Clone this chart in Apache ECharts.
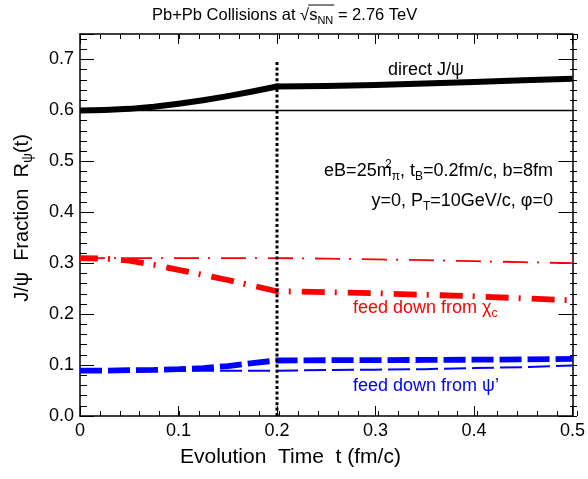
<!DOCTYPE html>
<html><head><meta charset="utf-8">
<script src="https://cdn.jsdelivr.net/npm/echarts@6/dist/echarts.min.js"></script>
<style>html,body{margin:0;padding:0;background:#fff}#c{width:588px;height:479px}</style>
</head><body><div id="c"></div>
<script>
// ---- data ----
const times      = [0, 0.025, 0.05, 0.075, 0.1, 0.125, 0.15, 0.175, 0.2, 0.25, 0.3, 0.35, 0.4, 0.45, 0.5];
const directB    = [0.600, 0.601, 0.603, 0.607, 0.613, 0.620, 0.628, 0.637, 0.647, 0.648, 0.650, 0.653, 0.656, 0.659, 0.662];
const directNoB  = [0.600, 0.600, 0.600, 0.600, 0.600, 0.600, 0.600, 0.600, 0.600, 0.600, 0.600, 0.600, 0.600, 0.600, 0.600];
const chiB       = [0.310, 0.309, 0.305, 0.297, 0.287, 0.277, 0.267, 0.256, 0.245, 0.243, 0.241, 0.238, 0.235, 0.231, 0.227];
const chiNoB     = [0.310, 0.310, 0.310, 0.310, 0.310, 0.310, 0.310, 0.310, 0.310, 0.309, 0.3075, 0.306, 0.304, 0.302, 0.300];
const psiB       = [0.089, 0.089, 0.090, 0.0905, 0.092, 0.094, 0.098, 0.104, 0.109, 0.1095, 0.1098, 0.110, 0.1105, 0.111, 0.112];
const psiNoB     = [0.089, 0.089, 0.089, 0.089, 0.089, 0.089, 0.089, 0.089, 0.089, 0.0902, 0.091, 0.092, 0.094, 0.096, 0.099];
const tB         = 0.2;          // magnetic field lifetime (dotted marker)
const markerTop  = 0.695;
const xTicks     = [0, 0.1, 0.2, 0.3, 0.4, 0.5];
const yTickLabels= ['0.0','0.1','0.2','0.3','0.4','0.5','0.6','0.7'];

const FONT = '"Liberation Sans", Arial, Helvetica, sans-serif';
const chart = echarts.init(document.getElementById('c'), null, {renderer:'canvas'});
const pairs = vals => times.map((t, i) => [t, vals[i]]);
const G = {left:80, right:11, top:34, bottom:63};

function xAx(grid, pos, interval, len, labels) {
  return {gridIndex:grid, type:'value', min:0, max:0.5, interval:interval, position:pos,
    axisLine:{show:grid===0, onZero:false, lineStyle:{color:'#000', width:1.5}},
    axisTick:{show:true, inside:true, length:len, lineStyle:{color:'#000', width:1}},
    axisLabel:{show:labels, fontSize:18, color:'#000', fontFamily:FONT, margin:6,
      formatter: v => { const i = xTicks.findIndex(t => Math.abs(t - v) < 1e-6); return i < 0 ? '' : (v === 0 ? '0' : v.toFixed(1)); }},
    splitLine:{show:false}};
}
function yAx(grid, pos, interval, len, labels) {
  return {gridIndex:grid, type:'value', min:0, max:0.75, interval:interval, position:pos,
    axisLine:{show:grid===0, onZero:false, lineStyle:{color:'#000', width:1.5}},
    axisTick:{show:true, inside:true, length:len, lineStyle:{color:'#000', width:1}},
    axisLabel:{show:labels, fontSize:18, color:'#000', fontFamily:FONT, margin:6,
      formatter: v => { const i = Math.round(v * 10); return (Math.abs(v - i/10) < 1e-6 && i < yTickLabels.length) ? yTickLabels[i] : ''; }},
    splitLine:{show:false}};
}

// text metrics for the sqrt overbar in the title
const cv = document.createElement('canvas').getContext('2d');
function tw(s, size) { cv.font = size + 'px ' + FONT; return cv.measureText(s).width; }
const titleX = 152, titleY = 15, titleSize = 16.5;
const w1 = tw('Pb+Pb Collisions at ', titleSize), wr = tw('√', titleSize), ws = tw('s', titleSize), wn = tw('NN', Math.round(titleSize*0.68));
const barX0 = titleX + w1 + wr - 1, barX1 = titleX + w1 + wr + ws + wn + 1;

const rich = (size, color) => ({
  t:{fontSize:size, fontFamily:FONT, fill:color, lineHeight:size + 6},
  sub:{fontSize:Math.round(size*0.68), fontFamily:FONT, fill:color, lineHeight:8, verticalAlign:'bottom'},
  sup:{fontSize:Math.round(size*0.68), fontFamily:FONT, fill:color, lineHeight:6, verticalAlign:'top', width:0.01}
});

const option = {
  animation:false,
  backgroundColor:'#fff',
  grid:[Object.assign({}, G), Object.assign({}, G)],
  xAxis:[xAx(0,'bottom',0.1,10,true), xAx(0,'top',0.1,10,false), xAx(1,'bottom',0.02,5,false), xAx(1,'top',0.02,5,false)],
  yAxis:[yAx(0,'left',0.1,14,true), yAx(0,'right',0.1,14,false), yAx(1,'left',0.02,7,false), yAx(1,'right',0.02,7,false)],
  series:[
    {type:'line', xAxisIndex:0, yAxisIndex:0, data:pairs(directNoB), symbol:'none', lineStyle:{color:'#000', width:1.5}},
    {type:'line', xAxisIndex:0, yAxisIndex:0, data:pairs(directB), symbol:'none', lineStyle:{color:'#000', width:6, cap:'butt', join:'round'}},
    {type:'line', xAxisIndex:0, yAxisIndex:0, data:pairs(chiNoB), symbol:'none', lineStyle:{color:'#ff0000', width:1.8, type:[25,9,2,11], cap:'butt'}},
    {type:'line', xAxisIndex:0, yAxisIndex:0, data:pairs(chiB), symbol:'none', lineStyle:{color:'#ff0000', width:5.8, type:[23,10,2,11], dashOffset:5, cap:'butt'}},
    {type:'line', xAxisIndex:0, yAxisIndex:0, data:pairs(psiNoB), symbol:'none', lineStyle:{color:'#0000ff', width:2, type:[22,6], cap:'butt'}},
    {type:'line', xAxisIndex:0, yAxisIndex:0, data:pairs(psiB), symbol:'none', lineStyle:{color:'#0000ff', width:5.8, type:[22,6], cap:'butt'}},
    {type:'line', xAxisIndex:0, yAxisIndex:0, data:[[tB,0],[tB,markerTop]], symbol:'none', z:5, lineStyle:{color:'#000', width:3, type:[3,2.4], cap:'butt'}}
  ],
  graphic:[
    {type:'text', x:titleX, y:titleY, style:{text:'{t|Pb+Pb Collisions at √s}{sub|NN}{t| = 2.76 TeV}', rich:rich(titleSize,'#000'), align:'left', verticalAlign:'middle'}},
    {type:'line', shape:{x1:barX0, y1:5, x2:barX1, y2:5}, style:{stroke:'#000', lineWidth:1}},
    {type:'text', x:22, y:218, rotation:Math.PI/2, style:{text:'{t|J/ψ  Fraction  R}{sub|ψ}{t|(t)}', rich:rich(20,'#000'), align:'center', verticalAlign:'middle'}},
    {type:'text', x:180, y:457, style:{text:'{t|Evolution  Time  t (fm/c)}', rich:rich(21,'#000'), align:'left', verticalAlign:'middle'}},
    {type:'text', x:388, y:70, style:{text:'{t|direct J/ψ}', rich:rich(18,'#000'), align:'left', verticalAlign:'middle'}},
    {type:'text', x:553, y:171, style:{text:'{t|eB=25m}{sup|2}{sub|π}{t|, t}{sub|B}{t|=0.2fm/c, b=8fm}', rich:rich(18,'#000'), align:'right', verticalAlign:'middle'}},
    {type:'text', x:553, y:201, style:{text:'{t|y=0, P}{sub|T}{t|=10GeV/c, φ=0}', rich:rich(18,'#000'), align:'right', verticalAlign:'middle'}},
    {type:'text', x:353, y:308, style:{text:'{t|feed down from χ}{sub|c}', rich:rich(18,'#ff0000'), align:'left', verticalAlign:'middle'}},
    {type:'text', x:353, y:386, style:{text:'{t|feed down from ψ’}', rich:rich(18,'#0000ff'), align:'left', verticalAlign:'middle'}}
  ]
};
chart.setOption(option);
</script>
</body></html>
